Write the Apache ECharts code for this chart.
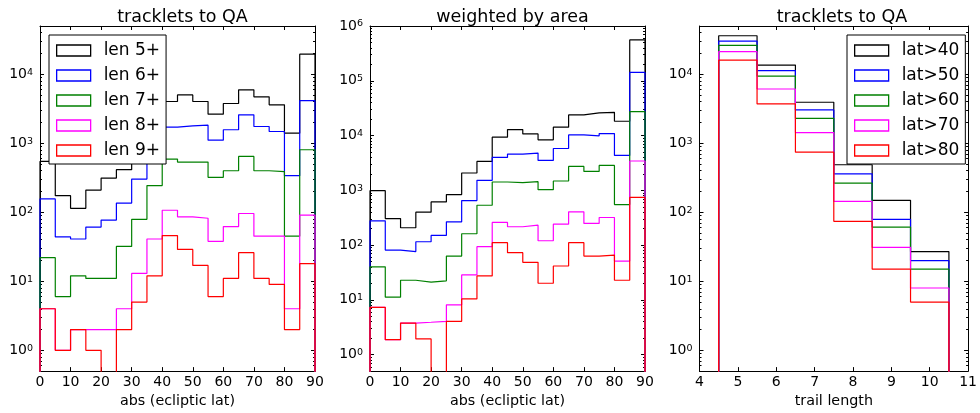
<!DOCTYPE html>
<html>
<head>
<meta charset="utf-8">
<script src="https://cdn.jsdelivr.net/npm/echarts@6/dist/echarts.min.js"></script>
<style>
html,body{margin:0;padding:0;background:#fff;}
#chart{width:980px;height:413px;}
</style>
</head>
<body>
<div id="chart"></div>
<script>
// ---- data ----
const latEdges = [0,5,10,15,20,25,30,35,40,45,50,55,60,65,70,75,80,85,90];
const lenNames = ['len 5+','len 6+','len 7+','len 8+','len 9+'];
const len5 = [546,174,114,210,313,414,960,1480,4030,5020,4030,2640,3770,5940,4700,3600,1400,19500];
const len6 = [156,44,41,61,77,136,303,675,1710,1790,1830,1110,1570,2580,1750,1480,339,4160];
const len7 = [22,6,12,11,11,32,79,244,590,534,534,321,400,645,400,387,45,805];
const len8 = [4,1,2,2,2,4,13,41,107,86,82,38,62,96,45,45,4,91];
const len9 = [4,1,2,1,0,2,5,12,46,29,17,6,11,26,11,9,2,18];

const wLen5 = [986,305,207,398,613,834,2070,3370,9330,12850,10720,8340,14190,23770,25850,26550,18240,556000];
const wLen6 = [277,81,76,115,150,266,649,1520,3980,4580,4780,3510,5800,10280,9860,10870,4330,141800];
const wLen7 = [40,11.2,22.8,21,22.2,63,161,534,1418,1378,1438,1029,1479,2730,2215,2850,549,27300];
const wLen8 = [7.3,1.87,3.77,3.9,4.05,8.1,28.5,93.5,259,216,231,120,241,405,248,319,51,3425];
const wLen9 = [7.3,1.87,3.77,1.93,0,4.05,10.4,27.3,110.6,72.8,48.5,20.1,41.5,110.6,63,65.8,22.8,740];

const trailEdges = [4.5,5.5,6.5,7.5,8.5,9.5,10.5];
const latNames = ['lat>40','lat>50','lat>60','lat>70','lat>80'];
const lat40 = [36100,13600,3930,488,149,27];
const lat50 = [30200,11300,3040,361,79,20];
const lat60 = [26200,9420,2300,265,61,15];
const lat70 = [21200,6110,1430,144,31,8];
const lat80 = [16000,3710,743,74,15,5];

const titles = ['tracklets to QA','weighted by area','tracklets to QA'];
const xNames = ['abs (ecliptic lat)','abs (ecliptic lat)','trail length'];
const majors1 = [1,10,100,1000,10000];
const majors2 = [1,10,100,1000,10000,100000,1000000];
const colors = ['#000000','#0000ff','#008000','#ff00ff','#ff0000'];

// ---- helpers ----
const FONT = 'DejaVu Sans';
const FLOOR = 1e-3;
function stepPts(edges, vals){
  const pts = [[edges[0], FLOOR]];
  for (let i = 0; i < vals.length; i++){
    const v = vals[i] > 0 ? vals[i] : FLOOR;
    pts.push([edges[i], v]); pts.push([edges[i+1], v]);
  }
  pts.push([edges[edges.length-1], FLOOR]);
  return pts;
}
function minorsFor(lo, hi){
  const out = [];
  for (let d = -1; d <= 6; d++){
    for (let k = 2; k <= 9; k++){
      const v = k * Math.pow(10, d);
      if (v >= lo && v <= hi) out.push(+v.toPrecision(3));
    }
  }
  return out;
}

const grids = [
  {left:40, top:26, width:275, height:347},
  {left:370, top:26, width:275, height:347},
  {left:699.5, top:26, width:275, height:347}
];
const xRanges = [[0,90,10],[0,90,10],[4,11,1]];
const yRanges = [[0.5,50000,majors1],[0.5,1000000,majors2],[0.5,50000,majors1]];

const xAxes = [], yAxes = [], series = [];
const baseLine = {show:true, onZero:false, lineStyle:{color:'#000', width:1}};
grids.forEach((g, gi) => {
  const [xmin,xmax,xint] = xRanges[gi];
  xAxes.push({
    type:'value', gridIndex:gi, position:'bottom', min:xmin, max:xmax, interval:xint,
    axisLine:baseLine, splitLine:{show:false},
    axisTick:{show:true, inside:true, length:4, lineStyle:{color:'#000'}},
    axisLabel:{show:true, margin:4, fontSize:14, fontFamily:FONT, color:'#000'},
    name:xNames[gi], nameLocation:'middle', nameGap:18,
    nameTextStyle:{fontSize:14.3, fontFamily:FONT, color:'#000'}
  });
  xAxes.push({
    type:'value', gridIndex:gi, position:'top', min:xmin, max:xmax, interval:xint,
    axisLine:baseLine, splitLine:{show:false},
    axisTick:{show:true, inside:true, length:4, lineStyle:{color:'#000'}},
    axisLabel:{show:false}
  });
  const [ymin,ymax,majors] = yRanges[gi];
  const minors = minorsFor(ymin, ymax);
  ['left','right'].forEach(pos => {
    yAxes.push({
      type:'log', logBase:10, gridIndex:gi, position:pos, min:ymin, max:ymax,
      axisLine:baseLine, splitLine:{show:false}, minorTick:{show:false},
      axisTick:{show:true, inside:true, length:4, customValues:majors, lineStyle:{color:'#000'}},
      axisLabel:{show:pos==='left', customValues:majors, margin:7,
        formatter: v => '{b|10}{s|' + Math.round(Math.log10(v)) + '}',
        rich:{
          b:{fontSize:14, fontFamily:FONT, color:'#000', lineHeight:14, verticalAlign:'bottom'},
          s:{fontSize:9.5, fontFamily:FONT, color:'#000', lineHeight:9, verticalAlign:'top'}
        }
      }
    });
    yAxes.push({
      type:'log', logBase:10, gridIndex:gi, position:pos, min:ymin, max:ymax,
      axisLine:{show:false, onZero:false}, splitLine:{show:false},
      axisTick:{show:true, inside:true, length:2, customValues:minors, lineStyle:{color:'#000'}},
      axisLabel:{show:false}
    });
  });
});

function addSeries(gi, names, edges, arrays){
  arrays.forEach((arr, i) => {
    series.push({
      type:'line', name:names[i], xAxisIndex:gi*2, yAxisIndex:gi*4,
      data:stepPts(edges, arr), showSymbol:false, symbol:'none', clip:true,
      lineStyle:{color:colors[i], width:1.2}, itemStyle:{color:colors[i]},
      emphasis:{disabled:true}, animation:false
    });
  });
}
addSeries(0, lenNames, latEdges, [len5,len6,len7,len8,len9]);
addSeries(1, lenNames, latEdges, [wLen5,wLen6,wLen7,wLen8,wLen9]);
addSeries(2, latNames, trailEdges, [lat40,lat50,lat60,lat70,lat80]);

function legendFor(names, left){
  return {
    orient:'vertical', left:left, top:35, icon:'rect', selectedMode:false,
    itemWidth:34, itemHeight:11, itemGap:8,
    padding:[7,6,5,7], borderColor:'#000', borderWidth:1, backgroundColor:'#fff', z:10,
    textStyle:{fontSize:17, fontFamily:FONT, color:'#000', lineHeight:17, padding:[0,0,0,8]},
    data: names.map((n,i) => ({name:n, itemStyle:{color:'rgba(0,0,0,0)', borderColor:colors[i], borderWidth:1.3}}))
  };
}

const option = {
  backgroundColor:'#fff',
  animation:false,
  title: titles.map((t, i) => ({
    text:t, left:grids[i].left + grids[i].width/2, top:3, textAlign:'center',
    textStyle:{fontSize:17.5, fontWeight:'normal', fontFamily:FONT, color:'#000'}
  })),
  grid: grids.map(g => Object.assign({containLabel:false}, g)),
  legend:[legendFor(lenNames, 49), legendFor(latNames, 847)],
  xAxis:xAxes, yAxis:yAxes, series:series
};
const chart = echarts.init(document.getElementById('chart'), null, {renderer:'canvas'});
chart.setOption(option);
</script>
</body>
</html>
